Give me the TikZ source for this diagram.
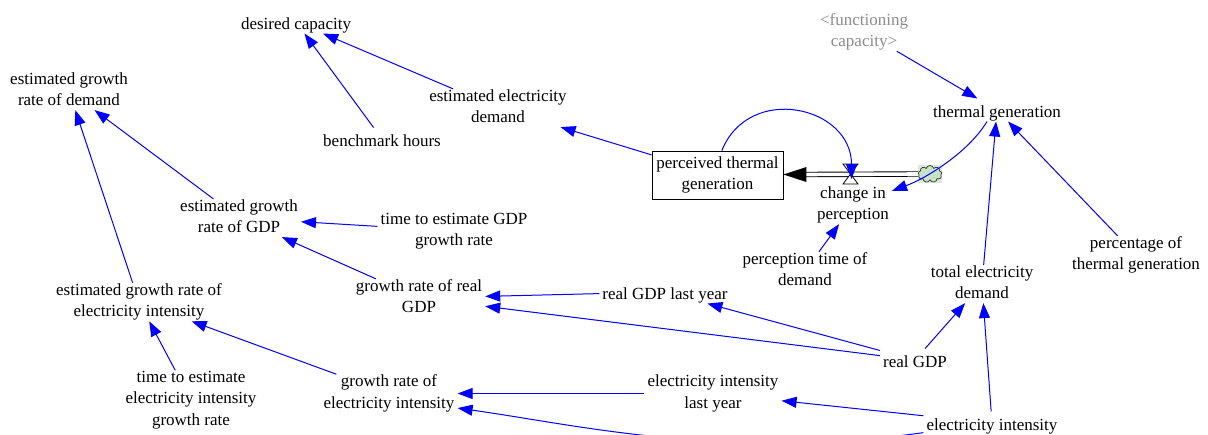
\documentclass[tikz,border=0pt]{standalone}
\usepackage{fontspec}
\setmainfont{Liberation Serif}
\usetikzlibrary{arrows.meta,shapes.symbols,calc}
\definecolor{linkblue}{RGB}{0,0,255}
\definecolor{cloudgreen}{RGB}{200,226,200}
\definecolor{cloudback}{RGB}{216,234,216}
\definecolor{shadowgray}{RGB}{140,140,140}
% struts that keep every label line the same height, with the text sitting a little low
\newcommand{\topstrut}{\rule{0pt}{18pt}}
\newcommand{\botstrut}{\rule[-3.5pt]{0pt}{0pt}}
\begin{document}
\begin{tikzpicture}[x=1pt,y=1pt,
  var/.style={align=center, inner xsep=3pt, inner ysep=0.5pt,
    font=\fontsize{17}{21.5}\selectfont,
    execute at begin node=\topstrut, execute at end node=\botstrut},
  shadowvar/.style={var, text=shadowgray},
  stockbox/.style={draw, line width=0.8pt, align=center, inner sep=0pt,
    minimum width=131pt, minimum height=48pt,
    font=\fontsize{17}{21.5}\selectfont,
    execute at begin node=\topstrut, execute at end node=\botstrut},
  arr/.style={linkblue, line width=1pt, -{Triangle[length=15pt,width=11pt]}},
  pipe/.style={draw=black, line width=0.9pt, double=white, double distance=3.6pt},
  source/.style={cloud, cloud puffs=9, draw=black!80, fill=cloudgreen,
    line width=0.7pt, minimum width=24pt, minimum height=17pt, inner sep=0pt}]

\fill[white] (0,0) rectangle (1208,-434);
\useasboundingbox (0,0) rectangle (1208,-434);

% variables
\node[var] (dc)   at (296,-22)  {desired capacity};
\node[var] (egd)  at (69,-91)   {estimated growth\\rate of demand};
\node[var] (bh)   at (382,-139) {benchmark hours};
\node[var] (eed)  at (498,-108) {estimated electricity\\demand};
\node[stockbox] (ptg) at (717.5,-175) {perceived thermal\\generation};
\node[var] (cip)  at (853,-205) {change in\\perception};
\node[shadowvar] (fc) at (864,-32) {\textless functioning\\capacity\textgreater};
\node[var] (tg)   at (997,-110) {thermal generation};
\node[var] (pct)  at (1136,-255) {percentage of\\thermal generation};
\node[var] (ted)  at (982,-284) {total electricity\\demand};
\node[var] (egg)  at (239,-218) {estimated growth\\rate of GDP};
\node[var] (tgg)  at (454,-231) {time to estimate GDP\\growth rate};
\node[var] (grg)  at (419,-298) {growth rate of real\\GDP};
\node[var] (rgl)  at (665,-292) {real GDP last year};
\node[var] (egei) at (139,-302) {estimated growth rate of\\electricity intensity};
\node[var] (rg)   at (915,-360) {real GDP};
\node[var] (tei)  at (191,-400) {time to estimate\\electricity intensity\\growth rate};
\node[var] (gei)  at (389,-393.5) {growth rate of\\electricity intensity};
\node[var] (eil)  at (713,-393.5) {electricity intensity\\last year};
\node[var] (ei)   at (992,-423) {electricity intensity};
\node[var] (ptd)  at (805,-271) {perception time of\\demand};

% flow into the stock: source cloud, pipe, valve
\coordinate (srcpos) at (930,-174);
\fill[cloudback] ($(srcpos)+(-12,-9)$) rectangle ($(srcpos)+(12,9)$);
\node[source] (src) at (srcpos) {};
\coordinate (valve) at (850.5,-174);
\draw[pipe] (src.west) -- ($(ptg.east)+(22,0.5)$);
\fill[black] ($(ptg.east)+(0,0.5)$) -- ++(23,7.5) -- ++(0,-15) -- cycle;
\filldraw[fill=white, draw=black, line width=0.8pt]
  ($(valve)+(-7.5,10)$) -- ++(15,0) -- ++(-15,-20) -- ++(15,0) -- cycle;

% causal links
\draw[arr] (bh) -- (dc);
\draw[arr] (eed) -- (dc);
\draw[arr] (ptg) -- (eed);
\draw[arr] (egg) -- (egd);
\draw[arr] (egei) -- (egd);
\draw[arr] (tgg) -- (egg);
\draw[arr] (grg) -- (egg);
\draw[arr] (rgl) -- (grg);
\draw[arr] (rg) -- (grg);
\draw[arr] (rg) -- (rgl);
\draw[arr] (rg) -- (ted);
\draw[arr] (ei) -- (ted);
\draw[arr] (ted) -- (tg);
\draw[arr] (pct) -- (tg);
\draw[arr] (fc) -- (tg);
\draw[arr] (tg.229) to[out=239, in=20, out distance=36pt, in distance=36pt] (cip.20);
\draw[arr] (ptd) -- (cip);
\draw[arr] (ptg.80) to[out=68, in=90, out distance=73pt, in distance=73pt] ($(valve)+(1,-5)$);
\draw[arr] (tei) -- (egei);
\draw[arr] (gei) -- (egei);
\draw[arr] (eil) -- (gei);
\draw[arr] (ei) -- (eil);
\draw[arr] (ei.188) to[out=188, in=-8, out distance=200pt, in distance=120pt] (gei.-12);

\end{tikzpicture}
\end{document}
